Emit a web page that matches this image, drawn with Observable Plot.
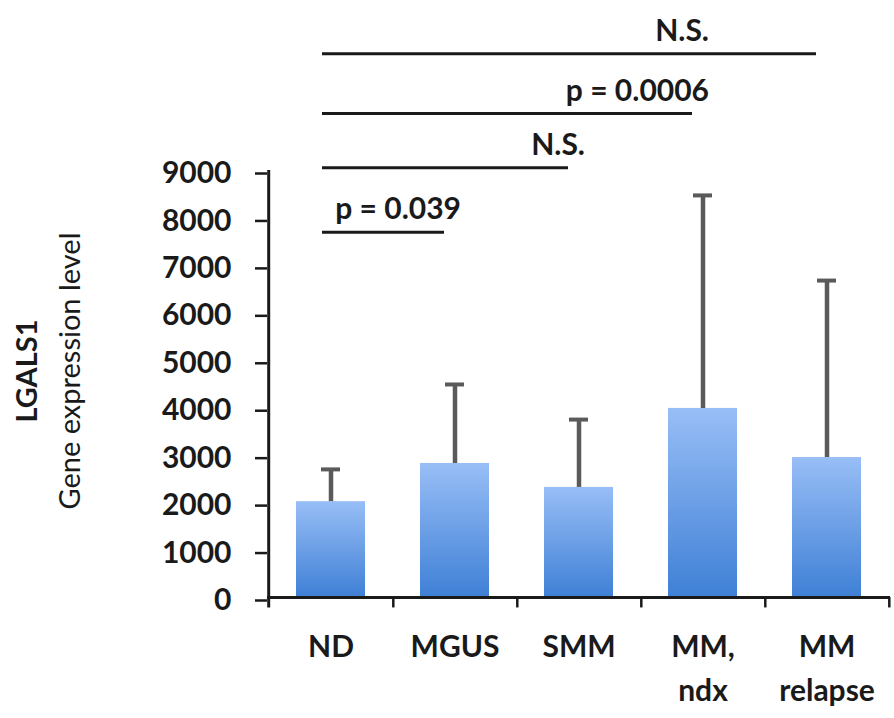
<!DOCTYPE html>
<html>
<head>
<meta charset="utf-8">
<script src="https://cdn.jsdelivr.net/npm/d3@7"></script>
<script src="https://cdn.jsdelivr.net/npm/@observablehq/plot@0.6"></script>
<style>
  html, body { margin: 0; padding: 0; background: #fff; }
  #chart svg { display: block; }
</style>
</head>
<body>
<div id="chart"></div>
<script>
// ---- data ----
const categories = ["ND", "MGUS", "SMM", "MM,\nndx", "MM\nrelapse"];
const means = [2020, 2825, 2320, 3985, 2950];
const sds = [680, 1665, 1430, 4490, 3730];
const yTicks = [0, 1000, 2000, 3000, 4000, 5000, 6000, 7000, 8000, 9000];

const bracketFrom = ["ND", "ND", "ND", "ND"];
const bracketTo = ["MGUS", "SMM", "MM,\nndx", "MM\nrelapse"];
const bracketY = [7700, 9060, 10200, 11460];
const bracketLabel = ["p = 0.039", "N.S.", "p = 0.0006", "N.S."];
const bracketLabelAt = ["MGUS", "SMM", "MM,\nndx", "MM,\nndx"];

// ---- derived tables ----
const bars = categories.map((c, i) => ({cat: c, mean: means[i], top: means[i] + sds[i]}));
const brackets = bracketFrom.map((f, i) => ({from: f, to: bracketTo[i], y: bracketY[i], label: bracketLabel[i], at: bracketLabelAt[i]}));

// ---- layout ----
const W = 894, H = 718;
const mL = 267, mR = 4, mT = 170, mB = 121;
const step = (W - mL - mR) / categories.length;
const font = "Lato, 'Open Sans', sans-serif";
const ink = "#1a1a1a";

const gradient = () => {
  const defs = d3.create("svg:defs");
  const g = defs.append("linearGradient").attr("id", "barGrad")
    .attr("x1", 0).attr("y1", 0).attr("x2", 0).attr("y2", 1);
  g.append("stop").attr("offset", "0%").attr("stop-color", "#98bef6");
  g.append("stop").attr("offset", "100%").attr("stop-color", "#3f80d6");
  return defs.node();
};

const chart = Plot.plot({
  width: W,
  height: H,
  marginLeft: mL,
  marginRight: mR,
  marginTop: mT,
  marginBottom: mB,
  style: {fontFamily: font, fontWeight: "bold", fontSize: "30px", color: ink, background: "#fff"},
  x: {domain: categories, paddingInner: 0.44, paddingOuter: 0.22, axis: null},
  y: {domain: [0, 9000], axis: null},
  marks: [
    gradient,
    Plot.barY(bars, {x: "cat", y: "mean", fill: "url(#barGrad)"}),
    // error bars (upper only)
    Plot.ruleX(bars, {x: "cat", y1: "mean", y2: "top", stroke: "#5a5a5a", strokeWidth: 4.5}),
    Plot.tickY(bars, {x: "cat", y: "top", stroke: "#5a5a5a", strokeWidth: 4, insetLeft: 25, insetRight: 25}),
    // y axis
    Plot.axisY({ticks: yTicks, tickSize: 12, tickPadding: 24, tickFormat: d => String(d), fontSize: 30, fontWeight: "bold", stroke: ink, strokeWidth: 2.5, fill: ink, label: null, dy: 3}),
    Plot.ruleX([categories[0]], {dx: -step / 2, y1: -220, y2: 9000, stroke: ink, strokeWidth: 3}),
    // x axis baseline and boundary ticks
    Plot.ruleY([0], {stroke: ink, strokeWidth: 3}),
    Plot.ruleX(categories, {dx: step / 2, y1: -220, y2: 0, stroke: ink, strokeWidth: 2.5}),
    Plot.axisX({tickSize: 0, tickPadding: 29, fontSize: 30, fontWeight: "bold", fill: ink, label: null, lineHeight: 1.45}),
    // significance brackets
    Plot.ruleY(brackets, {y: "y", x1: "from", x2: "to", stroke: ink, strokeWidth: 3, insetLeft: 26, insetRight: 45}),
    Plot.text(brackets, {x: "at", y: "y", text: "label", textAnchor: "end", lineAnchor: "bottom", dx: 6, dy: -13, fontSize: 30, fontWeight: "bold", fill: ink}),
    // y axis title
    Plot.text(["LGALS1"], {frameAnchor: "left", textAnchor: "middle", text: d => d, rotate: -90, dx: -240, dy: -13, fontSize: 29, fontWeight: "bold", fill: ink}),
    Plot.text(["Gene expression level"], {frameAnchor: "left", textAnchor: "middle", text: d => d, rotate: -90, dx: -197, dy: -13, fontSize: 29, fontWeight: "normal", fill: ink})
  ]
});

document.getElementById("chart").appendChild(chart);
</script>
</body>
</html>
